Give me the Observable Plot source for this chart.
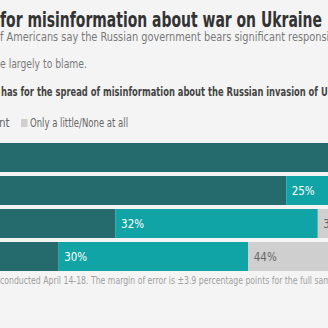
<!DOCTYPE html>
<html><head><meta charset="utf-8">
<script src="https://cdn.jsdelivr.net/npm/d3@7"></script>
<script src="https://cdn.jsdelivr.net/npm/@observablehq/plot@0.6"></script>
<style>
html,body{margin:0;padding:0;background:#f4f4f4;width:328px;height:328px;overflow:hidden;}
#wrap{position:relative;width:328px;height:328px;overflow:hidden;background:#f4f4f4;font-family:"Liberation Sans Narrow","DejaVu Sans Condensed","Roboto",sans-serif;}
.t{position:absolute;left:0;white-space:nowrap;transform-origin:0 0;line-height:0.9;}
#chart{position:absolute;left:-200px;top:141px;max-width:none !important;width:739px !important;height:133px !important;}
.sw{display:inline-block;width:8px;height:8px;vertical-align:0px;margin-right:3px;}
.bl{display:inline-block;width:0;height:0;vertical-align:baseline;}
</style></head><body><div id="wrap"></div>
<script>
// ---- data ----
const titleText = ["for misinformation about war on Ukraine", ""];
const subtitle1 = ["f Americans say the Russian government bears significant", " responsibility"];
const subtitle2 = ["e largely to blame.", ""];
const question = ["has for the spread of misinformation about the Russian invasion of", " Ukraine?"];
const footnote = ["conducted April 14-18. The margin of error is ±3.9 percentage points for the full", " sample."];
const categories = ["The Russian government", "Social media companies", "The U.S. government", "The news media"];
const responses = ["A great deal/Quite a bit", "A moderate amount", "Only a little/None at all"];
const greatDeal = [74, 60, 33, 24];
const moderate = [18, 25, 32, 30];
const little = [7, 14, 35, 44];
const colors = ["#256a6c", "#11a4a6", "#cfcfcf"];
const labelColors = ["#ffffff", "#ffffff", "#666666"];

const wrap = document.getElementById("wrap");

function setBaseline(d, baseline) {
  const b = document.createElement("span");
  b.className = "bl";
  d.appendChild(b);
  d.style.top = "0px";
  const wr = wrap.getBoundingClientRect().top;
  const y = b.getBoundingClientRect().bottom - wr;
  d.style.top = (baseline - y) + "px";
}

function addText(parts, opts) {
  const d = document.createElement("div");
  d.className = "t";
  d.style.fontSize = opts.size + "px";
  d.style.fontWeight = opts.weight || "normal";
  d.style.color = opts.color;
  d.style.left = (opts.left || 0) + "px";
  const m = document.createElement("span");
  m.textContent = parts[0];
  const r = document.createElement("span");
  r.textContent = parts[1];
  d.appendChild(m); d.appendChild(r);
  wrap.appendChild(d);
  const w = m.getBoundingClientRect().width;
  if (opts.target && w > 0) d.style.transform = `scaleX(${opts.target / w})`;
  setBaseline(d, opts.baseline);
  return d;
}

addText(titleText, {size: 20.5, weight: "bold", color: "#333", baseline: 27, left: 0, target: 322});
addText(subtitle1, {size: 12.5, color: "#7a7a7a", baseline: 40.5, left: 0, target: 285});
addText(subtitle2, {size: 12.5, color: "#7a7a7a", baseline: 68, left: 0, target: 87});
addText(question, {size: 12.5, weight: "bold", color: "#444", baseline: 96, left: 1, target: 317});
addText(footnote, {size: 11, color: "#a0a0a0", baseline: 284, left: 0, target: 312});

// legend: first two items right-aligned so they end at x≈9.5
const legL = document.createElement("div");
legL.className = "t";
legL.style.fontSize = "11.5px"; legL.style.color = "#666";
legL.style.left = "auto"; legL.style.right = (328 - 9.5) + "px";
legL.innerHTML = `<span class="sw" style="background:${colors[0]}"></span>${responses[0]}&nbsp;&nbsp;&nbsp;<span class="sw" style="background:${colors[1]}"></span>${responses[1]}`;
wrap.appendChild(legL);
setBaseline(legL, 127);
const legR = document.createElement("div");
legR.className = "t";
legR.style.fontSize = "11.5px"; legR.style.color = "#666";
legR.style.left = "21px";
legR.innerHTML = `<span class="sw" style="background:${colors[2]}"></span><span id="lt">${responses[2]}</span>`;
wrap.appendChild(legR);
{
  const lt = document.getElementById("lt");
  const w = lt.getBoundingClientRect().width;
  const sw = 11;
  legR.style.transform = `scaleX(${(128 - 21) / (w + sw)})`;
}
setBaseline(legR, 127);

// chart data table
const rows = [];
categories.forEach((c, i) => {
  [greatDeal, moderate, little].forEach((arr, k) => {
    rows.push({cat: c, resp: responses[k], value: arr[i], k});
  });
});

const chart = Plot.plot({
  width: 739,
  height: 133,
  marginLeft: 107,
  marginRight: 0,
  marginTop: 0,
  marginBottom: 0,
  style: {background: "transparent", overflow: "visible", maxWidth: "none"},
  x: {domain: [0, 100], axis: null},
  y: {domain: categories, paddingInner: 0.12, paddingOuter: 0.06, axis: null},
  color: {domain: responses, range: colors},
  marks: [
    Plot.barX(rows, {x: "value", y: "cat", fill: "resp", order: responses}),
    Plot.text(rows, Plot.stackX1({
      x: "value", y: "cat", z: "resp", order: responses,
      text: d => d.value + "%",
      fill: d => labelColors[d.k],
      textAnchor: "start", dx: 5,
      fontSize: 11.5,
      fontFamily: "'Liberation Sans Narrow','DejaVu Sans Condensed',sans-serif"
    }))
  ]
});
chart.id = "chart";
wrap.appendChild(chart);
</script>
</body></html>
